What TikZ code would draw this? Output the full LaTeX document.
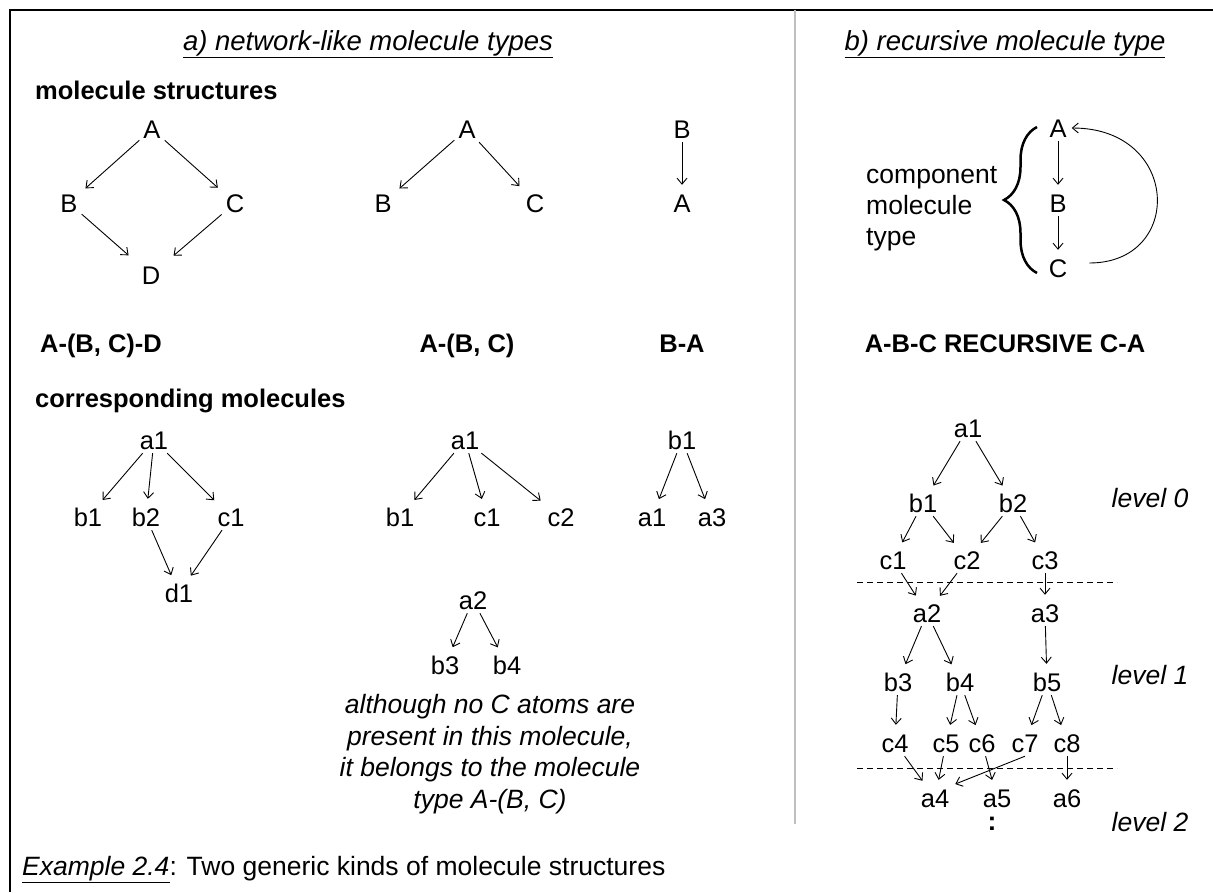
\documentclass[tikz,border=0pt]{standalone}
\usepackage{fontspec}
\setmainfont{Liberation Sans}
\usetikzlibrary{arrows.meta,decorations.pathreplacing}
\newcommand\fsz{\fontsize{26.5}{31}\selectfont}
\newcommand\fsl{\fontsize{25.5}{31}\selectfont}
\newcommand\fsb{\fontsize{25.5}{31}\selectfont}
\newcommand\fst{\fontsize{27.5}{33}\selectfont}
\begin{document}
\begin{tikzpicture}[x=1pt,y=-1pt,
  lbl/.style={inner sep=4pt,text height=18pt,text depth=0pt,font=\fsl},
  txt/.style={inner sep=0pt,font=\fsz},
  bld/.style={inner sep=0pt,font=\fsb\bfseries},
  ttl/.style={inner sep=0pt,font=\fst\itshape},
  lvl/.style={inner sep=0pt,font=\fsz\itshape},
  arr/.style={-{Straight Barb[length=6pt,width=10pt]},line width=0.9pt,shorten >=5pt},
  sepline/.style={line width=0.9pt,dash pattern=on 6pt off 4pt},
]
\useasboundingbox (0,0) rectangle (1213,892);
% frame
\draw[line width=2.5pt] (1213,10) -- (10,10) -- (10,892);
\draw[line width=1.8pt,color=black!25] (795,10) -- (795,824);
% titles
\node[ttl,anchor=base] (ta) at (368,50) {\underline{a) network-like molecule types}};
\node[ttl,anchor=base] (tb) at (1005,50) {\underline{b) recursive molecule type}};
\node[bld,anchor=base west] (hs) at (35,99) {molecule structures};
\node[bld,anchor=base west] (hc) at (35,407) {corresponding molecules};
% structure A-(B,C)-D
\node[lbl] (sA) at (152,129) {A};
\node[lbl] (sB) at (69,203) {B};
\node[lbl] (sC) at (235,203) {C};
\node[lbl] (sD) at (151,275) {D};
\draw[arr] (sA) -- (sB);
\draw[arr] (sA) -- (sC);
\draw[arr,shorten >=12pt] (sB) -- (sD);
\draw[arr,shorten >=12pt] (sC) -- (sD);
% structure A-(B,C)
\node[lbl] (mA) at (467,129) {A};
\node[lbl] (mB) at (383,203) {B};
\node[lbl] (mC) at (535,203) {C};
\draw[arr] (mA) -- (mB);
\draw[arr] (mA) -- (mC);
% structure B-A
\node[lbl] (rB) at (682,129) {B};
\node[lbl] (rA) at (682,203) {A};
\draw[arr] (rB) -- (rA);
% bold names
\node[bld,anchor=base] (n1) at (101,352) {A-(B, C)-D};
\node[bld,anchor=base] (n2) at (467,352) {A-(B, C)};
\node[bld,anchor=base] (n3) at (682,352) {B-A};
\node[bld,anchor=base] (n4) at (1005,352) {A-B-C RECURSIVE C-A};
% recursive structure
\node[lbl] (bA) at (1058,128) {A};
\node[lbl] (bB) at (1058,203) {B};
\node[lbl] (bC) at (1058,268) {C};
\draw[arr] (bA) -- (bB);
\draw[arr] (bB) -- (bC);
\draw[arr,shorten >=1pt] ([xshift=18pt,yshift=5pt]bC.east) .. controls +(95,0) and +(110,0) .. (bA.east);
\coordinate (brT) at (1037,127);
\coordinate (brB) at (1037,273);
\draw[line width=2.5pt,decorate,decoration={brace,amplitude=33pt}] (brB) -- (brT);
\node[txt,align=left,anchor=west] (comp) at (866,209) {component\\molecule\\type};
% corresponding molecules, left
\node[lbl] (la1) at (154,440) {a1};
\node[lbl] (lb1) at (88,517) {b1};
\node[lbl] (lb2) at (146,517) {b2};
\node[lbl] (lc1) at (231,517) {c1};
\node[lbl] (ld1) at (179,593) {d1};
\draw[arr] (la1) -- (lb1);
\draw[arr] (la1) -- (lb2);
\draw[arr] (la1) -- (lc1);
\draw[arr] (lb2) -- (ld1);
\draw[arr] (lc1) -- (ld1);
% middle
\node[lbl] (ma1) at (465,440) {a1};
\node[lbl] (mb1) at (400,517) {b1};
\node[lbl] (mc1) at (487,517) {c1};
\node[lbl] (mc2) at (561,517) {c2};
\draw[arr] (ma1) -- (mb1);
\draw[arr] (ma1) -- (mc1);
\draw[arr] (ma1) -- (mc2);
\node[lbl] (ma2) at (473,600) {a2};
\node[lbl] (mb3) at (445,665) {b3};
\node[lbl] (mb4) at (507,665) {b4};
\draw[arr] (ma2) -- (mb3);
\draw[arr] (ma2) -- (mb4);
\node[txt,font=\fontsize{26.5}{31.7}\selectfont\itshape,align=center] (note) at (490,754) {although no C atoms are\\present in this molecule,\\it belongs to the molecule\\type A-(B, C)};
% right
\node[lbl] (rb1) at (682,440) {b1};
\node[lbl] (ra1) at (652,517) {a1};
\node[lbl] (ra3) at (712,517) {a3};
\draw[arr] (rb1) -- (ra1);
\draw[arr] (rb1) -- (ra3);
% recursive molecule tree
\node[lbl] (ta1) at (968,428) {a1};
\node[lbl] (tb1) at (923,503) {b1};
\node[lbl] (tb2) at (1013,503) {b2};
\node[lbl] (tc1) at (893,560) {c1};
\node[lbl] (tc2) at (967,560) {c2};
\node[lbl] (tc3) at (1045,560) {c3};
\node[lbl] (ta2) at (927,613) {a2};
\node[lbl] (ta3) at (1045,613) {a3};
\node[lbl] (tb3) at (898,682) {b3};
\node[lbl] (tb4) at (960,682) {b4};
\node[lbl] (tb5) at (1047,682) {b5};
\node[lbl] (tc4) at (895,743) {c4};
\node[lbl] (tc5) at (946,743) {c5};
\node[lbl] (tc6) at (982,743) {c6};
\node[lbl] (tc7) at (1025,743) {c7};
\node[lbl] (tc8) at (1067,743) {c8};
\node[lbl] (ta4) at (935,798) {a4};
\node[lbl] (ta5) at (997,798) {a5};
\node[lbl] (ta6) at (1067,798) {a6};
\node[txt,font=\fsz\bfseries] (dots) at (992,824) {:};
\draw[arr] (ta1) -- (tb1);
\draw[arr] (ta1) -- (tb2);
\draw[arr] (tb1) -- (tc1);
\draw[arr] (tb1) -- (tc2);
\draw[arr] (tb2) -- (tc2);
\draw[arr] (tb2) -- (tc3);
\draw[arr] (tc1) -- (ta2);
\draw[arr] (tc2) -- (ta2);
\draw[arr] (tc3) -- (ta3);
\draw[arr] (ta2) -- (tb3);
\draw[arr] (ta2) -- (tb4);
\draw[arr] (ta3) -- (tb5);
\draw[arr] (tb3) -- (tc4);
\draw[arr] (tb4) -- (tc5);
\draw[arr] (tb4) -- (tc6);
\draw[arr] (tb5) -- (tc7);
\draw[arr] (tb5) -- (tc8);
\draw[arr] (tc4) -- (ta4);
\draw[arr] (tc5) -- (ta4);
\draw[arr,shorten >=2pt] (tc7.south) -- (ta4.north east);
\draw[arr] (tc6) -- (ta5);
\draw[arr] (tc8) -- (ta6);
\coordinate (s1l) at (857,582);
\coordinate (s1r) at (1117,582);
\coordinate (s2l) at (857,768);
\coordinate (s2r) at (1117,768);
\draw[sepline] (s1l) -- (s1r);
\draw[sepline] (s2l) -- (s2r);
\node[lvl] (lv0) at (1150,498) {level 0};
\node[lvl] (lv1) at (1150,675) {level 1};
\node[lvl] (lv2) at (1150,822) {level 2};
% caption
\node[txt,anchor=base west] (cap) at (22,875) {\textit{\underline{Example 2.4}}: Two generic kinds of molecule structures};
\end{tikzpicture}
\end{document}
